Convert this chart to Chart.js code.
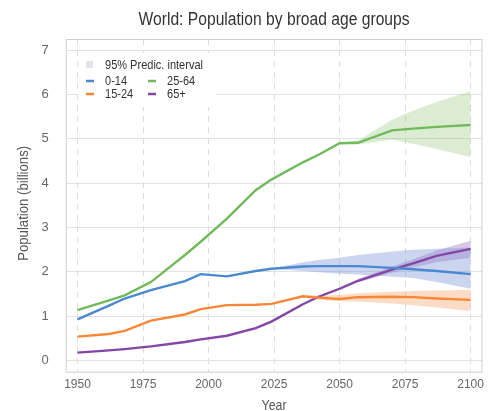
<!DOCTYPE html>
<html>
<head>
<meta charset="utf-8">
<script src="https://cdn.jsdelivr.net/npm/chart.js@4/dist/chart.umd.min.js"></script>
<style>
  html, body { margin: 0; padding: 0; background: #fff; }
  #wrap { width: 490px; height: 411px; }
</style>
</head>
<body>
<div id="wrap"><canvas id="c" width="490" height="411"></canvas></div>
<script>
// Population (billions) by broad age group, estimates then projections
const years   = [1950, 1962, 1968, 1978, 1991, 1997, 2007, 2018, 2024, 2036, 2042, 2050, 2057, 2070, 2078, 2087, 2100];
const age0_14  = [0.93, 1.24, 1.40, 1.59, 1.79, 1.95, 1.90, 2.02, 2.07, 2.12, 2.13, 2.13, 2.13, 2.09, 2.06, 2.02, 1.95];
const age15_24 = [0.54, 0.60, 0.67, 0.90, 1.04, 1.16, 1.25, 1.26, 1.28, 1.45, 1.42, 1.39, 1.43, 1.44, 1.43, 1.40, 1.37];
const age25_64 = [1.14, 1.36, 1.47, 1.77, 2.38, 2.68, 3.20, 3.84, 4.08, 4.47, 4.64, 4.90, 4.91, 5.19, 5.23, 5.27, 5.31];
const age65p   = [0.18, 0.23, 0.26, 0.32, 0.42, 0.48, 0.56, 0.73, 0.88, 1.27, 1.44, 1.62, 1.80, 2.05, 2.19, 2.36, 2.52];

// 95% prediction interval bounds over the projection years
const projYears = [2024, 2036, 2042, 2050, 2057, 2070, 2078, 2087, 2100];
const lo0_14  = [2.07, 2.02, 1.99, 1.96, 1.94, 1.89, 1.86, 1.77, 1.62];
const hi0_14  = [2.07, 2.22, 2.27, 2.32, 2.38, 2.46, 2.50, 2.52, 2.55];
const lo15_24 = [1.28, 1.42, 1.37, 1.34, 1.33, 1.29, 1.25, 1.20, 1.12];
const hi15_24 = [1.28, 1.48, 1.47, 1.48, 1.52, 1.55, 1.57, 1.58, 1.60];
const lo25_64 = [4.08, 4.47, 4.64, 4.89, 4.87, 4.98, 4.89, 4.77, 4.59];
const hi25_64 = [4.08, 4.47, 4.64, 4.91, 4.96, 5.43, 5.63, 5.83, 6.07];
const lo65p   = [0.88, 1.26, 1.42, 1.59, 1.76, 1.98, 2.10, 2.22, 2.32];
const hi65p   = [0.88, 1.28, 1.46, 1.65, 1.84, 2.12, 2.28, 2.48, 2.70];

const xTicks = [1950, 1975, 2000, 2025, 2050, 2075, 2100];
const yTicks = [0, 1, 2, 3, 4, 5, 6, 7];

const FONT = '"Liberation Sans", Arial, sans-serif';
const C = {
  blue:   'rgb(74, 137, 208)',
  orange: 'rgb(250, 135, 55)',
  green:  'rgb(112, 186, 92)',
  purple: 'rgb(132, 70, 166)'
};
const BAND = {
  blue:   'rgba(120, 145, 212, 0.38)',
  orange: 'rgba(248, 150, 80, 0.33)',
  green:  'rgba(125, 185, 95, 0.28)',
  purple: 'rgba(140, 85, 180, 0.33)'
};

const pts = (xs, ys) => xs.map((x, i) => ({ x, y: ys[i] }));

function line(label, ys, color) {
  return {
    label, data: pts(years, ys), borderColor: color, borderWidth: 2.4,
    pointRadius: 0, fill: false, tension: 0, order: 0
  };
}
function band(lo, hi, color) {
  return [
    { label: '_lo', data: pts(projYears, lo), borderWidth: 0, borderColor: 'transparent',
      pointRadius: 0, fill: false, order: 1 },
    { label: '_hi', data: pts(projYears, hi), borderWidth: 0, borderColor: 'transparent',
      backgroundColor: color, pointRadius: 0, fill: '-1', order: 1 }
  ];
}

// Draw text squeezed horizontally by factor sx (a condensed look)
function squeezed(ctx, text, x, y, sx, align) {
  ctx.save();
  ctx.translate(x, y);
  ctx.scale(sx, 1);
  ctx.textAlign = align;
  ctx.fillText(text, 0, 0);
  ctx.restore();
}

// Frame, title, axis titles and a two-column legend
const decor = {
  id: 'decor',
  beforeDatasetsDraw(chart) {
    const { ctx, chartArea: a } = chart;
    ctx.save();
    ctx.strokeStyle = '#cfcfcf';
    ctx.lineWidth = 1;
    ctx.strokeRect(a.left + 0.5, a.top + 0.5, a.right - a.left - 1, a.bottom - a.top);

    // legend panel
    ctx.fillStyle = '#fff';
    ctx.fillRect(78, 53, 138, 54);
    ctx.fillStyle = '#e3e3ec';
    ctx.fillRect(86, 61, 7, 7);
    ctx.font = '13px ' + FONT;
    ctx.fillStyle = '#333';
    ctx.textBaseline = 'middle';
    const sx = 98 / ctx.measureText('95% Predic. interval').width;
    squeezed(ctx, '95% Predic. interval', 105, 65, sx, 'left');
    const items = [
      ['0-14', C.blue, 86, 81], ['25-64', C.green, 148, 81],
      ['15-24', C.orange, 86, 94], ['65+', C.purple, 148, 94]
    ];
    for (const [t, col, x, y] of items) {
      ctx.strokeStyle = col;
      ctx.lineWidth = 2.5;
      ctx.beginPath(); ctx.moveTo(x, y); ctx.lineTo(x + 8, y); ctx.stroke();
      ctx.fillStyle = '#333';
      squeezed(ctx, t, x + 19, y, sx, 'left');
    }
    ctx.restore();
  },
  afterDraw(chart) {
    const { ctx, chartArea: a } = chart;
    const cx = (a.left + a.right) / 2;
    ctx.save();
    ctx.textBaseline = 'alphabetic';
    ctx.fillStyle = '#333';
    ctx.font = '17.5px ' + FONT;
    const title = 'World: Population by broad age groups';
    squeezed(ctx, title, cx, 25, 271 / ctx.measureText(title).width, 'center');

    ctx.fillStyle = '#555';
    ctx.font = '14px ' + FONT;
    squeezed(ctx, 'Year', cx, 410, 25 / ctx.measureText('Year').width, 'center');
    const yt = 'Population (billions)';
    const ysx = 115 / ctx.measureText(yt).width;
    ctx.translate(28, (a.top + a.bottom) / 2 - 2);
    ctx.rotate(-Math.PI / 2);
    squeezed(ctx, yt, 0, 0, ysx, 'center');
    ctx.restore();
  }
};

new Chart(document.getElementById('c'), {
  type: 'line',
  data: {
    datasets: [
      line('0-14', age0_14, C.blue),
      line('15-24', age15_24, C.orange),
      line('25-64', age25_64, C.green),
      line('65+', age65p, C.purple),
      ...band(lo0_14, hi0_14, BAND.blue),
      ...band(lo15_24, hi15_24, BAND.orange),
      ...band(lo25_64, hi25_64, BAND.green),
      ...band(lo65p, hi65p, BAND.purple)
    ]
  },
  options: {
    responsive: false,
    animation: false,
    devicePixelRatio: 1,
    layout: { padding: { top: 39, right: 1, left: 0, bottom: 0 } },
    plugins: { legend: { display: false }, title: { display: false }, tooltip: { enabled: false } },
    scales: {
      x: {
        type: 'linear', min: 1945.5, max: 2104.5,
        afterBuildTicks: s => { s.ticks = xTicks.map(v => ({ value: v })); },
        afterFit: s => { s.height = 39.3; },
        grid: { color: '#dcdcdc', drawTicks: false },
        border: { display: false, dash: [6, 5] },
        ticks: { font: { family: FONT, size: 12 }, color: '#666', padding: 6, maxRotation: 0,
                 callback: v => String(v) }
      },
      y: {
        type: 'linear', min: -0.25, max: 7.25,
        afterBuildTicks: s => { s.ticks = yTicks.map(v => ({ value: v })); },
        afterFit: s => { s.width = 65.7; },
        grid: { color: '#e2e2e2', drawTicks: false },
        border: { display: false },
        ticks: { font: { family: FONT, size: 13 }, color: '#666', padding: 17 }
      }
    }
  },
  plugins: [decor]
});
</script>
</body>
</html>
